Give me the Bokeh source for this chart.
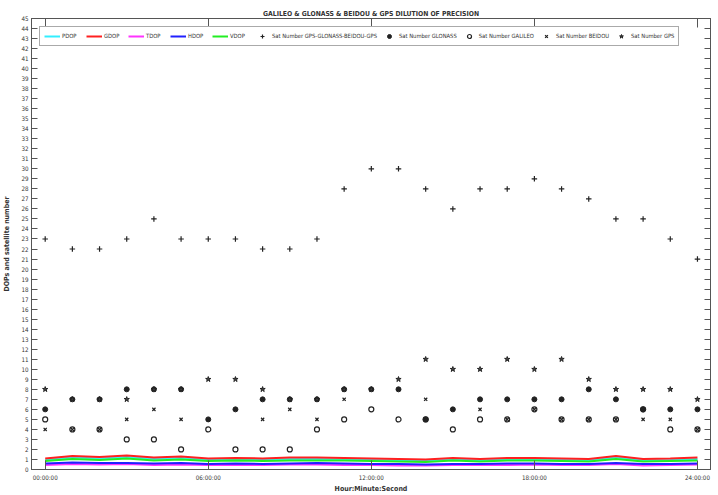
from bokeh.plotting import figure
from bokeh.models import Range1d, FixedTicker, LinearAxis, Legend, LegendItem
from bokeh.embed import file_html
from bokeh.resources import INLINE

# ---- data ----
hours = list(range(25))
x_tick_pos = [0, 6, 12, 18, 24]
x_tick_labels = ["00:00:00", "06:00:00", "12:00:00", "18:00:00", "24:00:00"]
y_ticks = list(range(0, 46))

pdop = [0.95, 1.2, 1.1, 1.25, 1.05, 1.15, 0.95, 1.0, 0.95, 1.05, 1.05, 1.0, 0.95,
        0.9, 0.85, 1.0, 0.9, 1.0, 1.0, 0.95, 0.9, 1.2, 0.9, 0.95, 1.05]
gdop = [1.1, 1.35, 1.25, 1.4, 1.2, 1.3, 1.1, 1.15, 1.1, 1.2, 1.2, 1.15, 1.1,
        1.05, 1.0, 1.15, 1.05, 1.15, 1.15, 1.1, 1.05, 1.35, 1.05, 1.1, 1.2]
tdop = [0.45, 0.55, 0.5, 0.55, 0.45, 0.5, 0.45, 0.45, 0.45, 0.5, 0.5, 0.45, 0.45,
        0.4, 0.4, 0.45, 0.45, 0.45, 0.5, 0.45, 0.45, 0.55, 0.4, 0.45, 0.5]
hdop = [0.6, 0.7, 0.65, 0.65, 0.6, 0.65, 0.55, 0.6, 0.55, 0.6, 0.65, 0.6, 0.55,
        0.55, 0.5, 0.55, 0.55, 0.6, 0.6, 0.55, 0.55, 0.65, 0.55, 0.55, 0.6]
vdop = [0.85, 1.05, 0.95, 1.1, 0.9, 1.0, 0.85, 0.9, 0.85, 0.9, 0.9, 0.9, 0.85,
        0.8, 0.75, 0.9, 0.8, 0.9, 0.9, 0.85, 0.8, 1.05, 0.8, 0.85, 0.9]

sat_total = [23, 22, 22, 23, 25, 23, 23, 23, 22, 22, 23, 28, 30,
             30, 28, 26, 28, 28, 29, 28, 27, 25, 25, 23, 21]
sat_glonass = [6, 7, 7, 8, 8, 8, 5, 6, 7, 7, 7, 8, 8,
               8, 5, 6, 7, 7, 7, 7, 8, 7, 6, 6, 6]
sat_galileo = [5, 4, 4, 3, 3, 2, 4, 2, 2, 2, 4, 5, 6,
               5, 5, 4, 5, 5, 6, 5, 5, 5, 6, 4, 4]
sat_beidou = [4, 4, 4, 5, 6, 5, 5, 6, 5, 6, 5, 7, 8,
              8, 7, 6, 6, 5, 6, 5, 5, 5, 5, 5, 4]
sat_gps = [8, 7, 7, 7, 8, 8, 9, 9, 8, 7, 7, 8, 8,
           9, 11, 10, 10, 11, 10, 11, 9, 8, 8, 8, 7]

FONT = "'DejaVu Sans Condensed', 'Liberation Sans Narrow', 'Liberation Sans', sans-serif"
AX = "#555555"

p = figure(width=718, height=495, output_backend="svg", toolbar_location=None,
           x_range=Range1d(-0.504, 24.48), y_range=Range1d(0, 45),
           title="GALILEO & GLONASS & BEIDOU & GPS DILUTION OF PRECISION",
           min_border_top=18, min_border_right=8, min_border_left=31, min_border_bottom=22)
p.title.align = "center"
p.title.text_font = FONT
p.title.text_font_size = "6.8px"
p.title.text_font_style = "bold"
p.title.text_color = "#333333"
p.title.offset = 0
p.title.standoff = 1

p.grid.visible = False
p.outline_line_color = AX

# bottom axis
xa = p.xaxis[0]
xa.ticker = FixedTicker(ticks=x_tick_pos)
xa.major_label_overrides = {t: l for t, l in zip(x_tick_pos, x_tick_labels)}
xa.axis_label = "Hour:Minute:Second"
# left axis
ya = p.yaxis[0]
ya.ticker = FixedTicker(ticks=y_ticks)
ya.axis_label = "DOPs and satellite number"

for ax in (xa, ya):
    ax.axis_line_color = AX
    ax.major_tick_line_color = AX
    ax.minor_tick_line_color = None
    ax.major_tick_out = 0
    ax.major_label_text_font = FONT
    ax.major_label_text_font_size = "6.2px"
    ax.major_label_text_color = "#333333"
    ax.axis_label_text_font = FONT
    ax.axis_label_text_font_size = "7px"
    ax.axis_label_text_font_style = "bold"
    ax.axis_label_text_color = "#333333"
xa.major_tick_in = 9
xa.major_label_standoff = 4
xa.axis_label_standoff = 1
ya.major_tick_in = 6
ya.major_label_standoff = 3
ya.axis_label_standoff = 7

top = LinearAxis(ticker=FixedTicker(ticks=x_tick_pos), axis_label=None,
                 axis_label_standoff=0,
                 major_label_overrides={t: "" for t in x_tick_pos},
                 major_label_text_font_size="0px",
                 major_tick_in=9, major_tick_out=0, minor_tick_line_color=None,
                 axis_line_color=AX, major_tick_line_color=AX, major_label_standoff=0)
p.add_layout(top, "above")
right = LinearAxis(ticker=FixedTicker(ticks=y_ticks), axis_label=None,
                   axis_label_standoff=0,
                   major_label_overrides={t: "" for t in y_ticks},
                   major_label_text_font_size="0px",
                   major_tick_in=6, major_tick_out=0, minor_tick_line_color=None,
                   axis_line_color=AX, major_tick_line_color=AX, major_label_standoff=0)
p.add_layout(right, "right")

r_p = p.line(hours, pdop, line_color="#33eeff", line_width=2)
r_g = p.line(hours, gdop, line_color="#ff2020", line_width=2)
r_t = p.line(hours, tdop, line_color="#ff33ff", line_width=2)
r_h = p.line(hours, hdop, line_color="#2020ff", line_width=2)
r_v = p.line(hours, vdop, line_color="#22ee22", line_width=2)

MK = "#222222"
r_tot = p.scatter(hours, sat_total, marker="cross", size=5.5, line_color=MK, line_width=1.2)
r_glo = p.scatter(hours, sat_glonass, marker="circle", size=5, fill_color=MK, line_color=MK)
r_gal = p.scatter(hours, sat_galileo, marker="circle", size=5, fill_color=None, line_color=MK, line_width=1.2)
r_bei = p.scatter(hours, sat_beidou, marker="x", size=4.5, line_color=MK, line_width=1.2)
r_gps = p.scatter(hours, sat_gps, marker="star", size=5.5, fill_color="#444444", line_color=MK)

legend = Legend(items=[
    LegendItem(label="PDOP", renderers=[r_p]),
    LegendItem(label="GDOP", renderers=[r_g]),
    LegendItem(label="TDOP", renderers=[r_t]),
    LegendItem(label="HDOP", renderers=[r_h]),
    LegendItem(label="VDOP", renderers=[r_v]),
    LegendItem(label="Sat Number GPS-GLONASS-BEIDOU-GPS", renderers=[r_tot]),
    LegendItem(label="Sat Number GLONASS", renderers=[r_glo]),
    LegendItem(label="Sat Number GALILEO", renderers=[r_gal]),
    LegendItem(label="Sat Number BEIDOU", renderers=[r_bei]),
    LegendItem(label="Sat Number GPS", renderers=[r_gps]),
], orientation="horizontal", location="top_left", margin=8)
legend.label_text_font = FONT
legend.label_text_font_size = "5.8px"
legend.label_text_color = "#333333"
legend.label_standoff = 2
legend.glyph_width = 16
legend.glyph_height = 10
legend.label_height = 10
legend.spacing = 4
legend.padding = 4
legend.border_line_color = AX
legend.background_fill_alpha = 1
p.add_layout(legend, "center")

open("out.html", "w").write(file_html(p, INLINE))
